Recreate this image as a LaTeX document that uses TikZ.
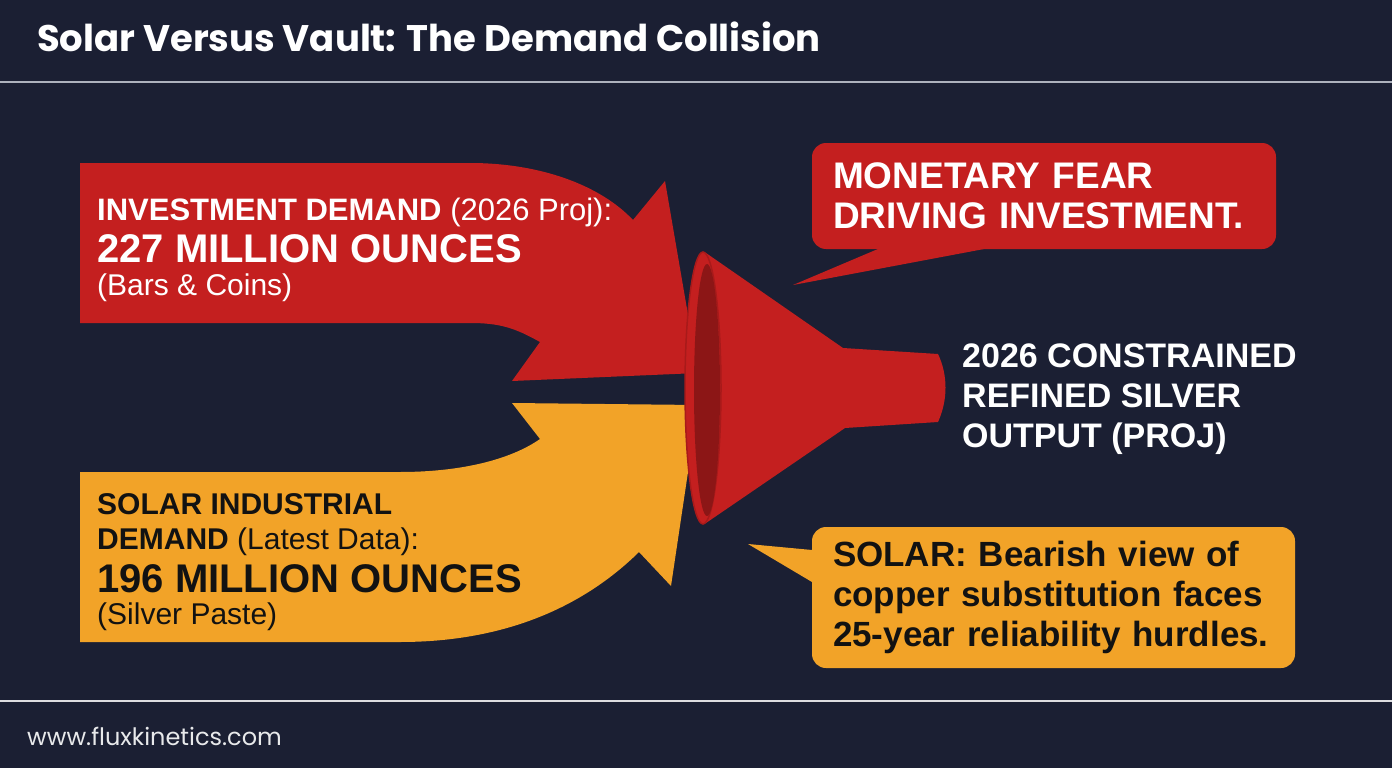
\documentclass[tikz,border=0pt]{standalone}
\usepackage{fontspec}
\setmainfont{Liberation Sans}
\newfontfamily\headfont{Poppins}
\usepackage{tikz}
\definecolor{navy}{HTML}{1B1F33}
\definecolor{flowred}{HTML}{C41F1F}
\definecolor{floworange}{HTML}{F2A328}
\definecolor{rimdark}{HTML}{8C1616}
\definecolor{rimedge}{HTML}{A81A1A}
\definecolor{rulegray}{HTML}{AEB2BD}
\definecolor{inkdark}{HTML}{121212}
\tikzset{
  lbl/.style={anchor=base west, inner sep=0pt, align=left},
  lblw/.style={lbl, text=white},
  lblk/.style={lbl, text=inkdark},
  callout/.style={rounded corners=14pt, inner xsep=21pt, inner ysep=0pt, align=left},
  rule/.style={draw=rulegray, line width=2pt},
  fsmall/.style={font=\fontsize{30}{35}\selectfont},
  fbig/.style={font=\bfseries\fontsize{40}{44}\selectfont},
}

\begin{document}
\begin{tikzpicture}[x=1pt, y=-1pt]
  \fill[navy] (0,0) rectangle (1392,768);
  \useasboundingbox (0,0) rectangle (1392,768);

  \node[lblw, font=\headfont\bfseries\fontsize{37}{42}\selectfont] (title) at (37,52) {Solar Versus Vault: The Demand Collision};
  \draw[rule] (0,82) -- (1392,82);

  % investment flow
  \fill[flowred] (80,163) -- (470,163) .. controls (540,163) and (600,185) .. (633,220)
    -- (665,181) -- (698,373) -- (512,381) -- (540,342)
    .. controls (515,328) and (500,323) .. (470,323) -- (80,323) -- cycle;
  \node[lblw, font=\fontsize{31}{35}\selectfont] (invhead) at (97,220) {\textbf{INVESTMENT DEMAND} (2026 Proj):};
  \node[lblw, fbig] (invval) at (97,262) {227 MILLION OUNCES};
  \node[lblw, fsmall] (invnote) at (97,295) {(Bars \& Coins)};

  % solar flow
  \fill[floworange] (80,472) -- (400,472) .. controls (460,472) and (510,460) .. (540,439)
    -- (512,403) -- (698,405) -- (671,586) -- (639,552)
    .. controls (580,610) and (500,642) .. (400,642) -- (80,642) -- cycle;
  \node[lblk, fsmall] (solhead) at (97,549) {\textbf{SOLAR INDUSTRIAL}\\\textbf{DEMAND} (Latest Data):};
  \node[lblk, fbig] (solval) at (97,592) {196 MILLION OUNCES};
  \node[lblk, fsmall] (solpaste) at (97,624) {(Silver Paste)};

  % funnel
  \fill[flowred] (706,253) -- (843,348) -- (938,354) .. controls (948,375) and (948,400) .. (938,422)
    -- (845,428) -- (706,523) -- cycle;
  \draw[rimedge, line width=1.5pt, fill=flowred] (703,388) ellipse [x radius=18pt, y radius=136pt];
  \fill[rimdark] (707,390) ellipse [x radius=13pt, y radius=126pt];
  \node[lblw, font=\bfseries\fontsize{34}{40}\selectfont] (output) at (962,447) {2026 CONSTRAINED\\REFINED SILVER\\OUTPUT (PROJ)};

  % callouts
  \fill[flowred] (885,246) -- (793,285) -- (1000,246) -- cycle;
  \node[callout, fill=flowred, text=white, minimum width=464pt, minimum height=106pt, text width=422pt,
    font=\bfseries\fontsize{37}{40}\selectfont] (fear) at (1044,196) {MONETARY FEAR\\DRIVING INVESTMENT.};
  \fill[floworange] (812,550) -- (748,544) -- (812,582) -- cycle;
  \node[callout, fill=floworange, text=inkdark, minimum width=483pt, minimum height=141pt, text width=441pt,
    font=\bfseries\fontsize{35}{40}\selectfont] (copper) at (1053.5,597.5) {SOLAR: Bearish view of\\copper substitution faces\\25-year reliability hurdles.};

  \draw[rule, draw=white!85!navy] (0,701) -- (1392,701);
  \node[lbl, text=white!90!navy, font=\headfont\fontsize{24}{28}\selectfont] (site) at (27,745) {www.fluxkinetics.com};
\end{tikzpicture}
\end{document}
